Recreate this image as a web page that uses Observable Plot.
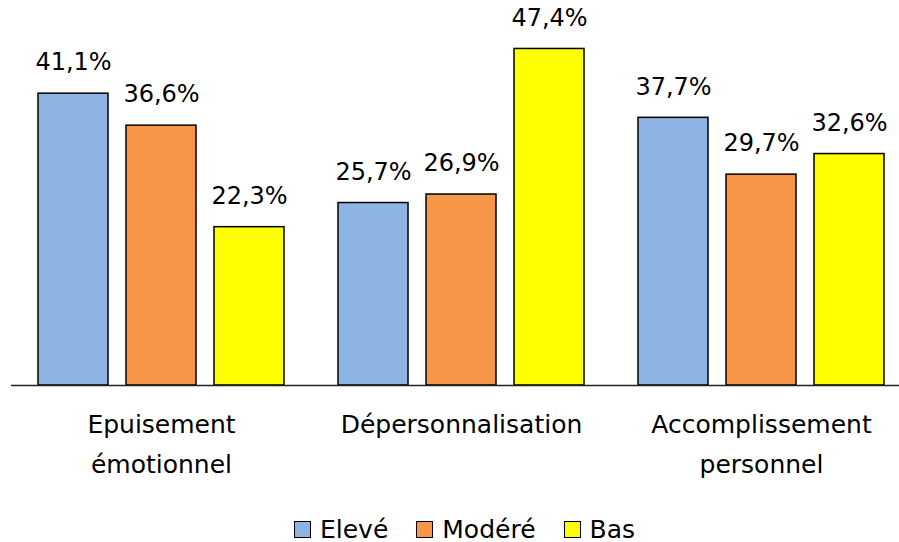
<!DOCTYPE html>
<html>
<head>
<meta charset="utf-8">
<script src="https://cdn.jsdelivr.net/npm/d3@7"></script>
<script src="https://cdn.jsdelivr.net/npm/@observablehq/plot@0.6"></script>
<style>
  body { margin: 0; background: #fff; font-family: "DejaVu Sans", sans-serif; overflow: hidden; }
  #chart { width: 899px; }
  .legend { display: flex; justify-content: center; align-items: center; box-sizing: border-box; height: 42px; padding-top: 16px; padding-left: 30px; font-size: 25px; color: #000; }
  .legend .item { display: flex; align-items: center; margin: 0 14px; }
  .legend .swatch { width: 15px; height: 15px; border: 1.5px solid #000; margin-right: 9px; }
</style>
</head>
<body>
<div id="chart"></div>
<script>
// Burnout dimensions and the share of respondents at each level
const groups = ["Epuisement émotionnel", "Dépersonnalisation", "Accomplissement personnel"];
const groupLabels = ["Epuisement\némotionnel", "Dépersonnalisation", "Accomplissement\npersonnel"];
const levels = ["Elevé", "Modéré", "Bas"];
const eleve = [41.1, 25.7, 37.7];
const modere = [36.6, 26.9, 29.7];
const bas = [22.3, 47.4, 32.6];
const colors = ["#8EB4E3", "#F79646", "#FFFF00"];

const series = [eleve, modere, bas];
const rows = groups.flatMap((g, i) =>
  levels.map((l, j) => ({group: g, level: l, value: series[j][i]}))
);
const pct = v => v.toFixed(1).replace(".", ",") + "%";
const labelOf = g => groupLabels[groups.indexOf(g)];

const chart = Plot.plot({
  width: 899,
  height: 500,
  marginTop: 30,
  marginBottom: 115,
  marginLeft: 10,
  marginRight: -12,
  style: {fontFamily: "DejaVu Sans, sans-serif", fontSize: "24px", color: "#000", background: "#fff"},
  fx: {domain: groups, padding: 0, label: null},
  x: {domain: levels, paddingInner: 0.2045, paddingOuter: 0.3, axis: null},
  y: {domain: [0, 50], axis: null},
  color: {domain: levels, range: colors},
  marks: [
    Plot.barY(rows, {fx: "group", x: "level", y: "value", fill: "level", stroke: "#000", strokeWidth: 1.5}),
    Plot.text(rows, {fx: "group", x: "level", y: "value", text: d => pct(d.value), dy: -31, fontSize: 24, fill: "#000"}),
    Plot.ruleY([0], {stroke: "#222", strokeWidth: 1.5}),
    Plot.axisFx({anchor: "bottom", tickSize: 0, tickPadding: 19, lineHeight: 1.6, fontSize: 25, label: null, tickFormat: labelOf, fill: "#000"})
  ]
});
document.getElementById("chart").appendChild(chart);

// Legend below the plot
const legend = document.createElement("div");
legend.className = "legend";
levels.forEach((l, j) => {
  const item = document.createElement("div");
  item.className = "item";
  const sw = document.createElement("span");
  sw.className = "swatch";
  sw.style.background = colors[j];
  const tx = document.createElement("span");
  tx.textContent = l;
  item.appendChild(sw);
  item.appendChild(tx);
  legend.appendChild(item);
});
document.getElementById("chart").appendChild(legend);
</script>
</body>
</html>
